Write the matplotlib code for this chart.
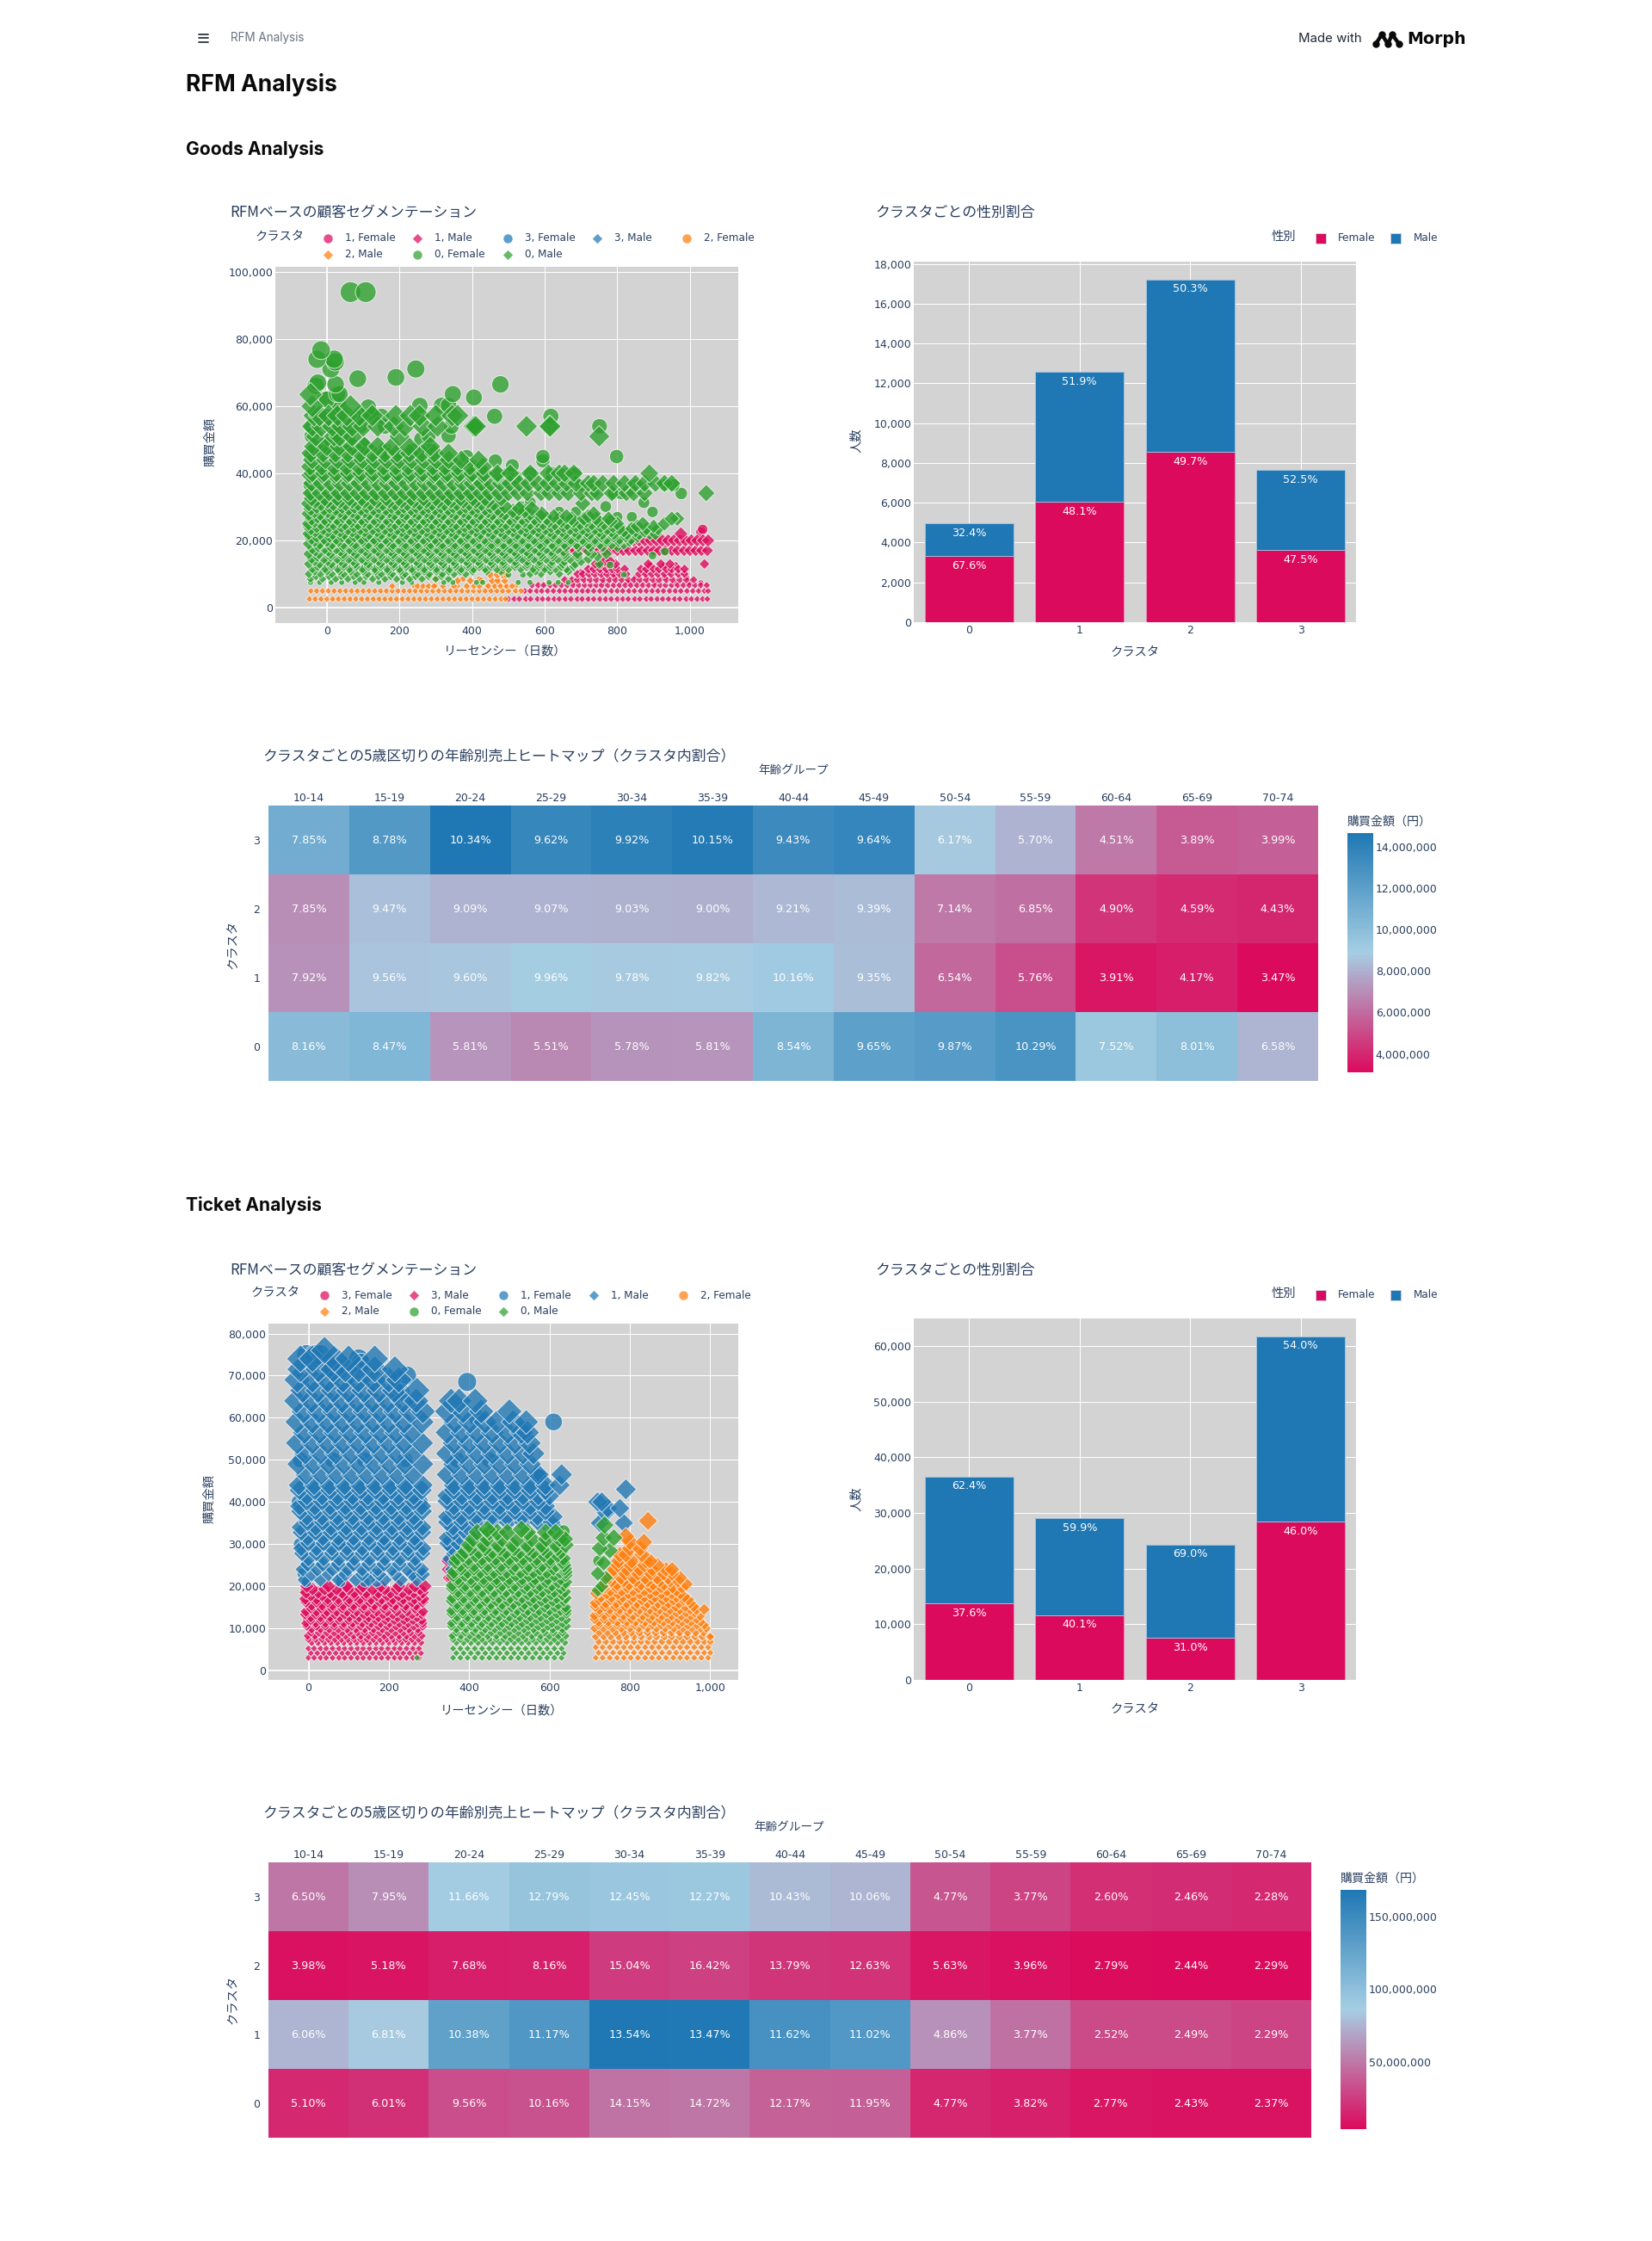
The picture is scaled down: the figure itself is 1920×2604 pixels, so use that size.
import matplotlib
matplotlib.use('Agg')
import matplotlib.pyplot as plt
import numpy as np
from matplotlib.colors import LinearSegmentedColormap, Normalize
from matplotlib.cm import ScalarMappable
from matplotlib.ticker import FuncFormatter

# ---- data ----
ages = ['10-14', '15-19', '20-24', '25-29', '30-34', '35-39', '40-44', '45-49',
        '50-54', '55-59', '60-64', '65-69', '70-74']
clusters = [0, 1, 2, 3]

goods_female = [3310, 6050, 8560, 3630]
goods_male = [1650, 6530, 8665, 4015]
goods_female_pct = ['67.6%', '48.1%', '49.7%', '47.5%']
goods_male_pct = ['32.4%', '51.9%', '50.3%', '52.5%']

ticket_female = [13740, 11650, 7540, 28420]
ticket_male = [22820, 17390, 16800, 33360]
ticket_female_pct = ['37.6%', '40.1%', '31.0%', '46.0%']
ticket_male_pct = ['62.4%', '59.9%', '69.0%', '54.0%']

# cell text, rows are cluster 0..3
goods_share = [
    [8.16, 8.47, 5.81, 5.51, 5.78, 5.81, 8.54, 9.65, 9.87, 10.29, 7.52, 8.01, 6.58],
    [7.92, 9.56, 9.60, 9.96, 9.78, 9.82, 10.16, 9.35, 6.54, 5.76, 3.91, 4.17, 3.47],
    [7.85, 9.47, 9.09, 9.07, 9.03, 9.00, 9.21, 9.39, 7.14, 6.85, 4.90, 4.59, 4.43],
    [7.85, 8.78, 10.34, 9.62, 9.92, 10.15, 9.43, 9.64, 6.17, 5.70, 4.51, 3.89, 3.99],
]
# cell colour, millions of yen, estimated from the colour bar
goods_sales = [
    [10.12, 10.50, 7.20, 6.83, 7.17, 7.20, 10.59, 11.97, 12.24, 12.76, 9.32, 9.93, 8.16],
    [7.11, 8.58, 8.62, 8.94, 8.78, 8.82, 9.12, 8.40, 5.87, 5.17, 3.51, 3.74, 3.12],
    [7.00, 8.45, 8.10, 8.09, 8.05, 8.02, 8.21, 8.37, 6.36, 6.11, 4.37, 4.09, 3.95],
    [11.12, 12.44, 14.65, 13.63, 14.06, 14.38, 13.36, 13.66, 8.74, 8.08, 6.39, 5.51, 5.65],
]
ticket_share = [
    [5.10, 6.01, 9.56, 10.16, 14.15, 14.72, 12.17, 11.95, 4.77, 3.82, 2.77, 2.43, 2.37],
    [6.06, 6.81, 10.38, 11.17, 13.54, 13.47, 11.62, 11.02, 4.86, 3.77, 2.52, 2.49, 2.29],
    [3.98, 5.18, 7.68, 8.16, 15.04, 16.42, 13.79, 12.63, 5.63, 3.96, 2.79, 2.44, 2.29],
    [6.50, 7.95, 11.66, 12.79, 12.45, 12.27, 10.43, 10.06, 4.77, 3.77, 2.60, 2.46, 2.28],
]
ticket_sales = [
    [17.1, 20.1, 32.0, 34.0, 47.4, 49.3, 40.8, 40.0, 16.0, 12.8, 9.3, 8.1, 7.9],
    [75.2, 84.5, 128.8, 138.6, 168.0, 167.2, 144.2, 136.8, 60.3, 46.8, 31.3, 30.9, 28.4],
    [6.4, 8.4, 12.4, 13.2, 24.4, 26.6, 22.3, 20.5, 9.1, 6.4, 4.5, 4.0, 3.7],
    [48.8, 59.6, 87.5, 95.9, 93.4, 92.0, 78.2, 75.5, 35.8, 28.3, 19.5, 18.5, 17.1],
]

# scatter data as (amount, [recency, ...]) rows, estimated by eye
g_1_female = [
    (7400, [680, 760, 830, 905, 960, 1000, 1030]),
    (9000, [705, 790, 850, 880, 930, 990]),
    (10500, [700, 770, 880, 945, 985]),
    (12500, [745, 890, 930, 960]),
    (22500, [1030]), (23300, [1035]),
]
g_1_male = [
    (2560, [500, 516, 530, 548, 561, 580, 594, 610, 626, 640, 657, 672, 690, 703, 720, 735, 752, 768, 783, 800,
            815, 830, 848, 862, 880, 893, 910, 925, 941, 958, 972, 990, 1004, 1020, 1035, 1048]),
    (4950, [545, 560, 578, 592, 608, 624, 641, 656, 672, 688, 704, 719, 735, 752, 767, 784, 800, 815, 832, 847,
            864, 880, 896, 912, 927, 944, 960, 975, 992, 1008, 1024, 1040, 1050]),
    (6670, [565, 582, 597, 615, 630, 646, 662, 678, 694, 710, 726, 742, 757, 774, 790, 806, 822, 837, 854, 870,
            886, 902, 918, 933, 950, 966, 982, 998, 1014, 1030, 1046]),
    (8300, [655, 675, 690, 708, 725, 742, 760, 778, 795, 812, 830, 846, 862, 880, 898, 915, 935, 952, 972, 990, 1010]),
    (10000, [690, 705, 722, 738, 756, 772, 790, 806, 825, 860, 878, 895, 912, 930, 948, 968, 985]),
    (11500, [720, 735, 752, 770, 785, 800, 820, 865, 880, 900, 915, 935, 950, 968, 985]),
    (13000, [740, 755, 775, 795, 885, 920, 945, 1040]),
    (13900, [765, 780]),
    (17000, [650, 666, 684, 700, 716, 732, 750, 766, 782, 800, 816, 832, 850, 866, 884, 900, 916, 932, 950, 966,
             984, 1000, 1016, 1032, 1048]),
    (20000, [845, 860, 876, 892, 908, 924, 940, 956, 972, 988, 1004, 1020, 1036, 1050]),
    (22000, [975]),
]
g_3_female = [(16500, [520, 545, 570, 600]), (15000, [530, 575])]
g_3_male = [(17500, [510, 550, 590])]
g_2_female = [(8500, [300, 375, 420, 470]), (6500, [240, 300, 360, 440, 490, 520])]
g_2_male = [
    (2560, [-48, -32, -16, 0, 16, 32, 48, 64, 80, 96, 112, 128, 144, 160, 176, 192, 208, 224, 240, 256, 272, 288,
            304, 320, 336, 352, 368, 384, 400, 416, 432, 448, 464, 480, 492]),
    (4950, [-44, -28, -12, 4, 20, 36, 52, 68, 84, 100, 116, 132, 148, 164, 180, 196, 212, 228, 244, 260, 276, 292,
            308, 324, 340, 356, 372, 388, 404, 420, 436, 452, 468, 484, 500, 520, 535]),
    (6400, [180, 250, 265, 280, 295, 320, 350, 385, 405, 420, 445, 462, 478, 495, 510]),
    (8000, [360, 395, 425, 455, 470, 490]),
    (9800, [450, 470, 485, 494]),
    (11000, [488]),
]
g_0_female = [
    (7500, [-45, -20, 12, 41, 78, 102, 143, 208, 233, 322, 347, 412, 429, 527, 559, 612, 637, 665]),
    (9800, [5, 60, 130, 240, 500, 540, 818]), (11800, [567, 600, 655]), (12700, [655, 780]),
    (15500, [-40, 90, 250, 430, 897]), (16700, [520, 931]),
    (21000, [-50, 120, 300, 610]), (24000, [-52, 200, 500, 720, 840]), (27000, [-40, 60, 480, 800, 840]),
    (28500, [640, 686, 897]), (30100, [534, 768]), (31300, [873, 560]), (34000, [-45, 976, 400, 790, 810]),
    (36500, [-48, 430, 700, 850, 930, 955]),
    (39000, [-40, 60, 180, 520]), (40000, [500, 560, 620, 670, 685]), (42300, [511, 60, 330, 400]),
    (43700, [464, 595, 120, 200]), (45000, [-45, 595, 798, 165, 250, 385, 100]),
    (47000, [-30, 20, 160, 240, 280, 75, 95]), (48700, [-4, 99, 30, 45]),
    (50200, [260, 10, 60]), (51200, [-42, 335, 280, 25]), (54000, [-42, 343, 751, 410, 60, 90, 160]),
    (57000, [462, 617, 0, 100, 150, 30, 125]), (59700, [114, 30]), (60200, [256, 316, 335, 33]),
    (62000, [-5, 0]), (62600, [405]), (63600, [28, 347, 35]), (66100, [-31]), (66500, [24, 478]),
    (67000, [-25]), (68200, [85]), (68600, [190]), (71100, [11, 245]), (73200, [23]),
    (74000, [20, -27]), (76700, [-16]), (94000, [65, 107]),
]
g_0_male = [
    (8500, [-45, -12, 24, 58, 90, 126, 160, 192, 228, 262, 300, 335]),
    (9300, [-30, 6, 40, 74, 108, 142, 176, 210, 244, 280, 316]),
    (10000, [-50, -18, 14, 46, 82, 112, 150, 180, 215, 250, 282, 318, 350, 382, 560, 590, 640]),
    (10800, [-34, 0, 34, 66, 100, 134, 168, 202, 236, 268, 302, 336, 368, 402, 440, 480, 575, 615, 665]),
    (11500, [-40, -5, 30, 62, 98, 132, 166, 200, 234, 268, 302, 338, 370, 404, 436, 468, 500, 534, 568, 600, 630, 660]),
    (12200, [-25, 12, 46, 80, 114, 148, 184, 218, 252, 286, 320, 354, 388, 420, 452, 486, 518, 550, 584, 616, 646, 680]),
    (13000, [-50, -20, 12, 46, 78, 114, 148, 184, 216, 252, 286, 320, 352, 388, 420, 454, 486, 520, 552, 586, 618, 650, 684, 750]),
    (13800, [-34, 2, 38, 72, 106, 142, 176, 210, 246, 280, 314, 348, 384, 416, 450, 484, 518, 552, 586, 620, 654, 700]),
    (14500, [-42, -8, 28, 60, 96, 130, 164, 198, 232, 268, 300, 336, 370, 404, 438, 470, 504, 538, 570, 604, 636, 670, 720]),
    (15200, [-26, 10, 44, 78, 112, 148, 182, 216, 252, 284, 318, 354, 388, 420, 454, 488, 522, 556, 590, 622, 656, 690, 745]),
    (16000, [-50, -22, 10, 44, 80, 112, 146, 182, 216, 250, 284, 318, 354, 386, 420, 452, 488, 520, 556, 588, 620, 654, 690, 730, 770]),
    (16800, [-32, 4, 38, 72, 106, 140, 176, 210, 244, 278, 312, 346, 380, 414, 448, 482, 516, 550, 584, 618, 652, 720]),
    (17500, [-40, -6, 26, 62, 94, 130, 164, 198, 234, 266, 302, 336, 368, 404, 436, 470, 504, 536, 572, 604, 636]),
    (18200, [-24, 10, 44, 78, 112, 146, 180, 216, 250, 284, 318, 352, 386, 420, 454, 488, 522, 556, 590, 624, 658, 692, 726, 760, 800]),
    (19000, [-50, -20, 14, 46, 78, 114, 148, 182, 216, 250, 286, 318, 352, 386, 418, 454, 486, 520, 554, 586, 620, 654, 688, 720, 752, 784, 818]),
    (19800, [-34, 0, 32, 64, 98, 132, 166, 200, 234, 268, 302, 336, 370, 404, 436, 470, 504, 538, 572, 604, 638, 672, 706, 738, 770, 804, 834]),
    (20500, [-42, -8, 26, 60, 96, 130, 162, 198, 232, 266, 298, 334, 368, 402, 434, 470, 502, 538, 570, 606, 638, 672, 704, 738, 770, 806, 838]),
    (21200, [-28, 8, 42, 76, 110, 146, 180, 214, 248, 282, 316, 350, 386, 420, 454, 488, 522, 556, 590, 622, 656, 690, 722, 756, 790, 824, 856]),
    (22000, [-50, -18, 16, 48, 84, 116, 150, 184, 218, 252, 288, 320, 354, 388, 422, 456, 488, 524, 556, 590, 624, 656, 692, 724, 758, 790, 826, 860, 890, 905]),
    (22800, [-32, 2, 36, 70, 104, 138, 172, 206, 240, 274, 308, 342, 376, 410, 444, 478, 512, 546, 580, 614, 648, 682, 716, 750, 784, 818, 850, 875]),
    (23500, [-44, -10, 24, 58, 92, 126, 160, 194, 228, 262, 296, 330, 364, 398, 432, 466, 500, 534, 568, 602, 636, 670, 704, 738, 772, 806, 840, 880, 912]),
    (24200, [-28, 6, 40, 74, 108, 142, 176, 210, 244, 278, 312, 346, 380, 414, 448, 482, 516, 550, 584, 618, 652, 686, 720, 754, 788, 855, 900]),
    (25000, [-50, -16, 18, 50, 86, 118, 152, 188, 220, 254, 290, 322, 356, 392, 424, 458, 494, 526, 560, 596, 628, 662, 698, 730, 764, 800, 870, 930]),
    (25800, [-34, 0, 34, 68, 102, 136, 170, 204, 238, 272, 306, 340, 374, 408, 442, 476, 510, 544, 578, 612, 646, 680, 714, 748, 782]),
    (26500, [-42, -6, 28, 62, 96, 130, 164, 198, 232, 266, 300, 334, 368, 402, 436, 470, 504, 538, 572, 606, 640, 674, 708, 742, 776, 965, 950]),
    (27200, [-26, 10, 44, 78, 112, 146, 180, 214, 248, 282, 316, 350, 384, 418, 452, 486, 520, 554, 588, 625, 660, 720]),
    (28000, [-50, -18, 14, 48, 84, 116, 150, 186, 218, 252, 288, 320, 354, 390, 422, 456, 490, 524, 560, 592, 735]),
    (28800, [-34, 2, 36, 70, 104, 138, 172, 206, 240, 274, 308, 342, 376, 410, 444, 478, 512, 545]),
    (29500, [-44, -8, 24, 60, 94, 128, 162, 196, 232, 264, 298, 334, 366, 400, 436, 470, 530, 565]),
    (30200, [-28, 8, 42, 76, 110, 144, 178, 212, 246, 280, 314, 348, 382, 416, 450, 490]),
    (31000, [-50, -16, 18, 52, 86, 120, 154, 188, 222, 256, 290, 324, 358, 392, 426, 460, 705]),
    (31800, [-32, 2, 36, 70, 104, 138, 172, 206, 240, 274, 308, 342, 376, 410, 444]),
    (32500, [-42, -6, 28, 62, 96, 130, 164, 198, 232, 266, 300, 334, 368, 402, 436, 480]),
    (34100, [-45, -20, 6, 32, 58, 84, 110, 136, 162, 188, 214, 240, 266, 292, 318, 344, 370, 396, 422, 448, 474,
             500, 526, 552, 590, 612, 640, 665, 700, 730, 745, 785, 825, 845, 875, 1045]),
    (37000, [-42, -16, 10, 36, 62, 88, 114, 140, 166, 192, 218, 244, 270, 296, 322, 348, 374, 400, 426, 452, 478,
             504, 530, 556, 582, 608, 634, 660, 686, 720, 735, 760, 790, 820, 850, 875, 905, 930, 950]),
    (39500, [-46, -12, 22, 56, 90, 124, 158, 192, 226, 260, 294, 328, 362, 396, 430, 470]),
    (40000, [-40, -8, 26, 60, 94, 128, 162, 196, 230, 264, 298, 332, 366, 400, 434, 470, 505, 560, 610, 640, 655, 680, 888]),
    (42000, [-46, -14, 20, 54, 88, 122, 156, 190, 224, 258, 292, 326, 360, 394, 430]),
    (44000, [-40, -4, 30, 64, 98, 132, 166, 200, 234, 268, 302, 336, 370, 418]),
    (46000, [-44, -10, 24, 58, 92, 126, 160, 194, 228, 262, 296, 335]),
    (48000, [-36, 0, 34, 70, 104, 140, 180, 225, 285]),
    (51000, [-30, 20, 35, 70, 200, 750]),
    (54000, [-40, -15, 15, 40, 70, 100, 140, 185, 215, 265, 305, 405, 410, 550, 612, 615]),
    (57200, [-35, -20, 5, 30, 55, 90, 125, 190, 230, 255, 300, 345, 360]),
    (60000, [-40, 65]), (63500, [-45]),
]

t_3_female = [
    (8000, [10, 70, 130, 190, 250]), (12000, [-5, 60, 150, 240]), (16000, [30, 110, 200, 275]),
    (19000, [-8, 90, 260]),
]
t_3_male = [
    (3000, [0, 14, 30, 44, 60, 76, 90, 106, 122, 136, 152, 168, 182, 198, 214, 228, 244, 260, 275]),
    (4100, [6, 22, 38, 52, 68, 84, 98, 114, 130, 144, 160, 176, 190, 206, 222, 236, 252, 268, 280]),
    (5200, [0, 14, 30, 44, 60, 76, 90, 106, 122, 136, 152, 168, 182, 198, 214, 228, 244, 260, 275]),
    (6600, [8, 24, 40, 56, 72, 88, 104, 120, 136, 152, 168, 184, 200, 216, 232, 248, 264, 280]),
    (7400, [0, 18, 34, 50, 66, 82, 98, 114, 130, 146, 162, 178, 194, 210, 226, 242, 258, 274]),
    (8200, [-2, 16, 36, 54, 74, 92, 112, 130, 150, 168, 188, 206, 226, 244, 264, 282]),
    (9000, [6, 26, 46, 64, 84, 102, 122, 140, 160, 178, 198, 216, 236, 254, 274]),
    (9800, [8, 30, 52, 74, 96, 118, 140, 162, 184, 206, 228, 250, 272]),
    (10500, [-4, 20, 42, 64, 86, 108, 130, 152, 174, 196, 218, 240, 262, 284]),
    (11200, [-6, 18, 42, 64, 88, 110, 134, 156, 180, 202, 226, 248, 272, 284]),
    (11900, [6, 30, 54, 76, 100, 122, 146, 168, 192, 214, 238, 260, 282]),
    (12600, [6, 30, 54, 78, 102, 126, 150, 174, 198, 222, 246, 270]),
    (13300, [-8, 18, 42, 66, 90, 114, 138, 162, 186, 210, 234, 258, 282]),
    (14000, [-6, 20, 46, 70, 96, 120, 146, 170, 196, 220, 246, 270, 285]),
    (14800, [6, 32, 58, 84, 110, 136, 162, 188, 214, 240, 266]),
    (15500, [8, 34, 60, 86, 112, 138, 164, 190, 216, 242, 268]),
    (16300, [-6, 20, 48, 74, 100, 126, 152, 178, 206, 232, 258, 284]),
    (17000, [-8, 20, 48, 74, 102, 128, 156, 182, 210, 236, 264, 286]),
    (17800, [6, 34, 62, 88, 116, 142, 170, 196, 224, 250, 276]),
    (18500, [-6, 24, 54, 84, 114, 144, 174, 204, 234, 262, 284]),
    (19300, [10, 40, 70, 100, 130, 160, 190, 220, 250, 278]),
    (20000, [-4, 50, 95, 135, 180, 225, 265, 290]),
    (22000, [352, 358]), (24000, [350, 358]), (26000, [350]),
]
t_1_female = [
    (75000, [-5, 15, 30]), (74000, [125]), (73000, [130]), (70000, [245]), (66000, [230]), (72000, [60]),
    (68500, [395]), (59000, [610]), (46000, [570, 575]), (60000, [420]), (50000, [-20, 60, 140, 240, 370, 450]),
    (40000, [-25, 100, 200, 280, 360, 480, 590]), (30000, [-22, 80, 180, 275, 350]), (23000, [-15, 80, 160, 260, 280]),
    (21000, [-5, 80, 140, 170]),
]
t_1_male = [
    (21500, [-10, 30, 75, 118, 150, 190, 230, 270]),
    (22800, [8, 50, 92, 134, 176, 216, 258, 285]),
    (24000, [-14, 22, 60, 98, 134, 172, 208, 246, 282, 358]),
    (25200, [-2, 36, 74, 112, 150, 188, 226, 264, 368]),
    (26500, [0, 38, 76, 114, 152, 190, 228, 266, 352, 374]),
    (27800, [-16, 20, 58, 96, 134, 172, 210, 248, 284, 362, 385]),
    (29000, [-18, 20, 58, 96, 134, 172, 210, 248, 286, 358, 385]),
    (30200, [0, 38, 76, 114, 152, 190, 228, 266, 346, 372, 396]),
    (31500, [-2, 36, 74, 112, 150, 188, 226, 264, 345, 378, 402]),
    (32800, [-18, 18, 56, 94, 132, 170, 208, 246, 284, 362, 392, 415]),
    (34000, [-20, 18, 56, 94, 132, 170, 208, 246, 284, 360, 396, 600, 612]),
    (35200, [-2, 36, 74, 112, 150, 188, 226, 264, 345, 382, 420, 458, 496, 534, 572, 605]),
    (36500, [-4, 34, 72, 110, 148, 186, 224, 262, 345, 380, 418, 456, 494, 532, 570, 610]),
    (37800, [-20, 18, 56, 94, 132, 170, 208, 246, 284, 362, 400, 438, 476, 514, 552, 590]),
    (39000, [-22, 16, 54, 92, 130, 168, 206, 244, 282, 362, 400, 438, 476, 514, 552, 590]),
    (40200, [-4, 34, 72, 110, 148, 186, 224, 262, 345, 382, 420, 458, 496, 534, 572]),
    (41500, [-4, 34, 72, 110, 148, 186, 224, 262, 345, 382, 420, 458, 496, 534, 572, 600]),
    (42800, [-22, 16, 54, 92, 130, 168, 206, 244, 282, 362, 400, 438, 476, 514, 552, 590]),
    (44000, [-24, 14, 52, 90, 128, 166, 204, 242, 284, 362, 400, 438, 476, 514, 552, 590, 625]),
    (46500, [-6, 32, 70, 108, 146, 184, 222, 260, 345, 382, 420, 458, 496, 534, 572, 630]),
    (49000, [-26, 12, 50, 88, 126, 164, 202, 240, 284, 362, 400, 438, 476, 514, 552]),
    (51500, [-8, 30, 68, 106, 144, 182, 220, 258, 345, 382, 420, 458, 496, 534, 560]),
    (54000, [-28, 10, 48, 86, 124, 162, 200, 238, 282, 362, 400, 438, 476, 514, 550]),
    (56500, [-10, 28, 66, 104, 142, 180, 218, 256, 345, 382, 420, 458, 496, 530, 545]),
    (59000, [-28, 10, 48, 86, 124, 162, 200, 238, 282, 365, 402, 440, 470, 510, 542]),
    (61500, [-12, 26, 64, 102, 140, 178, 216, 254, 285, 345, 385, 430, 500]),
    (64000, [-30, 8, 46, 84, 122, 160, 198, 236, 268, 355, 375, 415]),
    (66500, [-14, 24, 62, 100, 138, 176, 214, 270]),
    (69000, [-28, 10, 48, 86, 124, 162, 200, 225]),
    (71500, [-20, 25, 62, 92, 125, 165, 215]),
    (74000, [-20, 10, 65, 100, 165]),
    (76000, [40]),
    (35000, [725, 785]), (37500, [740]), (38500, [745, 775]), (40000, [720, 730]), (43000, [790]),
]
t_2_female = [
    (12000, [720, 800, 880, 950]), (18000, [770, 850]), (22000, [790, 860]), (8000, [1000]),
]
t_2_male = [
    (3000, [715, 732, 750, 768, 785, 802, 820, 838, 855, 872, 890, 908, 925, 942, 960, 978, 995]),
    (4200, [722, 740, 758, 775, 792, 810, 828, 845, 862, 880, 898, 915, 932, 950, 968, 985, 1000]),
    (5500, [715, 732, 750, 768, 785, 802, 820, 838, 855, 872, 890, 908, 925, 942, 960, 978, 995]),
    (6800, [722, 740, 758, 775, 792, 810, 828, 845, 862, 880, 898, 915, 932, 950, 968, 985, 1000]),
    (8000, [715, 735, 752, 772, 790, 810, 828, 848, 866, 886, 904, 924, 942, 962, 980, 1000]),
    (9000, [724, 744, 764, 784, 804, 824, 844, 864, 884, 904, 924, 944, 964, 984]),
    (10000, [712, 734, 756, 778, 800, 822, 844, 866, 888, 910, 932, 954, 976, 990]),
    (10800, [722, 746, 768, 790, 812, 834, 856, 878, 900, 922, 944, 966, 985]),
    (11500, [722, 746, 768, 792, 814, 838, 860, 884, 906, 930, 952, 976]),
    (12200, [712, 736, 758, 782, 804, 828, 850, 874, 896, 920, 942, 966]),
    (13000, [712, 736, 760, 784, 808, 832, 856, 880, 904, 928, 952, 975]),
    (13800, [724, 748, 772, 796, 820, 844, 868, 892, 916, 940, 962]),
    (14500, [724, 750, 774, 800, 824, 850, 874, 900, 924, 950, 965, 985]),
    (15200, [714, 738, 764, 788, 814, 838, 864, 888, 914, 938, 958]),
    (16000, [714, 740, 766, 792, 818, 844, 870, 896, 922, 950]),
    (16800, [724, 752, 778, 804, 830, 856, 882, 908, 934, 945]),
    (17500, [728, 754, 782, 808, 836, 862, 890, 916, 935]),
    (18300, [716, 742, 770, 796, 824, 850, 878, 904, 925]),
    (19000, [725, 752, 780, 808, 836, 864, 892, 915]),
    (19800, [738, 766, 794, 822, 850, 878, 906, 930]),
    (20500, [738, 768, 798, 828, 858, 885, 940]),
    (21300, [754, 784, 814, 844, 874, 900, 920]),
    (22000, [748, 778, 808, 838, 868, 895, 925]),
    (23000, [756, 788, 820, 852, 884, 905]),
    (24000, [760, 792, 824, 856, 890, 905]),
    (25000, [770, 802, 836, 868]),
    (26000, [772, 805, 840, 850]),
    (27500, [775, 790, 830]), (29000, [800, 825]),
    (30500, [800, 835]), (31800, [790]), (35500, [845]),
]
t_0_female = [
    (8000, [360, 420, 500, 560, 620]), (14000, [370, 450, 540, 630]), (22000, [390, 470, 560]),
    (26000, [722]), (32000, [600, 630]), (33000, [635]),
]
t_0_male = [
    (3000, [360, 378, 396, 414, 432, 450, 468, 486, 504, 522, 540, 558, 576, 594, 612, 630]),
    (3000, [270]),
    (4100, [368, 386, 404, 422, 440, 458, 476, 494, 512, 530, 548, 566, 584, 602, 620, 635]),
    (5200, [360, 378, 396, 414, 432, 450, 468, 486, 504, 522, 540, 558, 576, 594, 612, 630]),
    (6600, [368, 386, 404, 422, 440, 458, 476, 494, 512, 530, 548, 566, 584, 602, 620, 638]),
    (7400, [360, 378, 396, 414, 432, 450, 468, 486, 504, 522, 540, 558, 576, 594, 612, 630]),
    (8200, [358, 380, 402, 424, 446, 468, 490, 512, 534, 556, 578, 600, 622, 640]),
    (9000, [368, 390, 412, 434, 456, 478, 500, 522, 544, 566, 588, 610, 632]),
    (9800, [368, 392, 416, 440, 464, 488, 512, 536, 560, 584, 608, 632]),
    (10500, [356, 380, 404, 428, 452, 476, 500, 524, 548, 572, 596, 620, 642]),
    (11200, [356, 382, 406, 432, 456, 482, 506, 532, 556, 582, 606, 632]),
    (12000, [368, 394, 418, 444, 468, 494, 518, 544, 568, 594, 618, 642]),
    (12700, [370, 396, 422, 448, 474, 500, 526, 552, 578, 604, 630]),
    (13500, [356, 384, 410, 436, 462, 488, 514, 540, 566, 592, 618, 642]),
    (14200, [356, 384, 412, 438, 466, 492, 520, 546, 574, 600, 628, 642]),
    (15000, [370, 398, 426, 452, 480, 506, 534, 560, 588, 614, 640]),
    (15700, [370, 398, 426, 454, 482, 510, 538, 566, 594, 622]),
    (16500, [356, 384, 412, 440, 468, 496, 524, 552, 580, 608, 636]),
    (17200, [358, 386, 416, 444, 474, 502, 532, 560, 590, 618, 640]),
    (18000, [372, 402, 430, 460, 488, 518, 546, 576, 604, 632]),
    (18700, [372, 402, 432, 462, 492, 522, 552, 582, 612, 638]),
    (19500, [358, 388, 418, 448, 478, 508, 538, 568, 598, 628]),
    (20200, [358, 390, 420, 452, 482, 514, 544, 576, 606, 636]),
    (21000, [374, 406, 436, 468, 498, 530, 560, 592, 622, 640]),
    (21800, [372, 404, 436, 468, 500, 532, 564, 596, 628]),
    (22600, [360, 390, 420, 452, 484, 516, 548, 580, 612, 640]),
    (23400, [362, 396, 428, 462, 494, 528, 560, 594, 626, 640]),
    (24200, [380, 412, 444, 478, 510, 544, 576, 610, 638]),
    (25000, [378, 412, 446, 480, 514, 548, 582, 616, 636]),
    (25800, [366, 396, 430, 464, 498, 532, 566, 600, 632]),
    (26600, [370, 398, 432, 466, 500, 534, 568, 602, 634]),
    (27400, [384, 416, 450, 484, 518, 552, 586, 620]),
    (28200, [390, 424, 458, 492, 526, 560, 594, 628]),
    (29000, [404, 440, 476, 512, 548, 584, 620]),
    (29800, [400, 436, 472, 508, 544, 580, 616, 640]),
    (31200, [410, 445, 482, 520, 556, 592, 625, 638]),
    (32800, [420, 450, 470, 495, 545, 590, 615]),
    (33500, [445, 530]),
    (19000, [720]), (20000, [730]), (22000, [740]), (23000, [720]), (25500, [735]), (28500, [750]),
    (29000, [725]), (31500, [735, 760]), (34500, [737]),
]

# ---- styling ----
W, H = 1920, 2604
PX = 0.72  # px -> pt at dpi 100
INK = '#2a3f5f'
PINK = '#dc0a5c'
BLUE = '#1f77b4'
ORANGE = '#ff7f0e'
GREEN = '#2ca02c'
PANEL = '#d3d3d3'
CJK = ['Noto Sans CJK JP', 'DejaVu Sans']
LATIN = ['DejaVu Sans', 'Noto Sans CJK JP']
HEAD = ['Inter', 'DejaVu Sans']
TITLE = 16.9
AXIS = 14.3
TICK = 12.5

heat_cmap = LinearSegmentedColormap.from_list('pink_blue', [PINK, '#a6cee3', '#1f78b4'])
thousands = FuncFormatter(lambda v, _: f'{int(v):,}')

fig = plt.figure(figsize=(W / 100, H / 100), dpi=100, facecolor='white')
page = fig.add_axes([0, 0, 1, 1], zorder=5)
page.set_xlim(0, W)
page.set_ylim(H, 0)
page.axis('off')


def put(x, y, s, size, color=INK, family=CJK, ha='left', rotation=0, weight='normal'):
    page.text(x, y, s, fontsize=size * PX, color=color, family=family, ha=ha, va='center',
              rotation=rotation, weight=weight)


def axes_px(left, top, right, bottom):
    return fig.add_axes([left / W, 1 - bottom / H, (right - left) / W, (bottom - top) / H])


def unpack(rows):
    xs, ys = [], []
    for amount, recency in rows:
        xs.extend(recency)
        ys.extend([amount] * len(recency))
    return np.array(xs, float), np.array(ys, float)


def style_panel(ax, xlim, ylim, xticks, yticks):
    ax.set_facecolor(PANEL)
    ax.set_xlim(*xlim)
    ax.set_ylim(*ylim)
    ax.set_xticks(xticks)
    ax.set_yticks(yticks)
    ax.yaxis.set_major_formatter(thousands)
    ax.grid(True, color='white', lw=1 * PX)
    ax.set_axisbelow(True)
    for sp in ax.spines.values():
        sp.set_visible(False)
    ax.tick_params(length=0, labelsize=TICK * PX, labelcolor=INK, pad=2)


def scatter_panel(box, xlim, ylim, yticks, series, ref_px, ref_y):
    ax = axes_px(*box)
    style_panel(ax, xlim, ylim, [0, 200, 400, 600, 800, 1000], yticks)
    ax.xaxis.set_major_formatter(thousands)
    ax.axhline(0, color='white', lw=1.5 * PX, zorder=0.5)
    ax.axvline(0, color='white', lw=1.5 * PX, zorder=0.5)
    for rows, color, marker in series:
        x, y = unpack(rows)
        d = np.maximum(ref_px * np.sqrt(y / ref_y), 6) * PX
        ax.scatter(x, y, s=d ** 2, c=color, marker=marker, alpha=0.78, edgecolors='white',
                   linewidths=0.9 * PX, clip_on=True)
    return ax


def scatter_legend(title_xy, xs, text_xs, ys, labels):
    put(title_xy[0], title_xy[1], 'クラスタ', AXIS, ha='center')
    for i, (label, color, marker) in enumerate(labels):
        row, col = divmod(i, 5)
        d = 11 if marker == 'o' else 8.5
        page.scatter(xs[col], ys[row], s=(d * PX) ** 2, c=color, marker=marker, alpha=0.72, edgecolors='white',
                     linewidths=0.75 * PX)
        put(text_xs[col], ys[row], label, 12, family=LATIN)


def bar_panel(box, top, yticks, female, male, f_pct, m_pct):
    ax = axes_px(*box)
    style_panel(ax, (-0.5, 3.5), (0, top), clusters, yticks)
    ax.bar(clusters, female, width=0.8, color=PINK, edgecolor='#e58ab0', linewidth=1 * PX)
    ax.bar(clusters, male, width=0.8, bottom=female, color=BLUE, edgecolor='#9dbfdc', linewidth=1 * PX)
    for i in clusters:
        for tip, lab in ((female[i], f_pct[i]), (female[i] + male[i], m_pct[i])):
            ax.annotate(lab, (i, tip), xytext=(0, -11 * PX), textcoords='offset points', ha='center', va='center',
                        color='white', fontsize=12.8 * PX, family=LATIN)
    return ax


def bar_legend(y_title, y_items):
    put(1492, y_title, '性別', AXIS, ha='center')
    for sq_x, tx_x, color, lab in ((1534.5, 1555, PINK, 'Female'), (1622, 1643, BLUE, 'Male')):
        page.scatter(sq_x, y_items, s=(12.5 * PX) ** 2, c=color, marker='s', edgecolors='#c9d4e4', linewidths=0.6)
        put(tx_x, y_items, lab, 12, family=LATIN)


def heat_panel(box, share, sales, vmin, vmax, cbar_box, cbar_ticks, cbar_title_y):
    ax = axes_px(*box)
    norm = Normalize(vmin, vmax)
    ax.pcolormesh(np.arange(14) - 0.5, np.arange(5) - 0.5, np.array(sales), cmap=heat_cmap, norm=norm)
    ax.xaxis.tick_top()
    ax.set_xticks(range(13), ages)
    ax.set_yticks(clusters)
    ax.tick_params(length=0, labelsize=TICK * PX, labelcolor=INK)
    ax.tick_params(axis='x', pad=1.5)
    ax.tick_params(axis='y', pad=7)
    for sp in ax.spines.values():
        sp.set_visible(False)
    for r, row in enumerate(share):
        for c, v in enumerate(row):
            ax.text(c, r, f'{v:.2f}%', ha='center', va='center', color='white', fontsize=12.8 * PX, family=LATIN)
    cax = axes_px(*cbar_box)
    cb = fig.colorbar(ScalarMappable(norm=norm, cmap=heat_cmap), cax=cax)
    cb.outline.set_visible(False)
    cb.set_ticks(cbar_ticks)
    cb.ax.set_yticklabels([f'{int(t * 1e6):,}' for t in cbar_ticks])
    cax.tick_params(length=0, labelsize=TICK * PX, labelcolor=INK, pad=2)
    put(cbar_box[0], cbar_title_y, '購買金額（円）', 14)
    return ax


# ---- page header ----
for ly in (39.5, 44, 48.5):
    page.plot([230.5, 241.5], [ly, ly], color='#1f2937', lw=1.7 * PX, solid_capstyle='round')
put(268, 44, 'RFM Analysis', 13.5, color='#6b7280', family=HEAD)
put(216, 99, 'RFM Analysis', 26.5, color='#0a0a0a', family=HEAD, weight='bold')
put(216, 173, 'Goods Analysis', 21, color='#0a0a0a', family=HEAD, weight='bold')
put(216, 1400.5, 'Ticket Analysis', 21, color='#0a0a0a', family=HEAD, weight='bold')
put(1509, 45, 'Made with', 15, color='#1f2937', family=HEAD)
put(1635.5, 45.5, 'Morph', 19, color='#0a0a0a', family=LATIN, weight='bold')
logo_x = [1599, 1606, 1613, 1618, 1626]
logo_y = [51, 40, 51, 40, 51]
page.plot(logo_x, logo_y, color='#0a0a0a', lw=4.4 * PX)
page.scatter(logo_x, logo_y, s=(8.4 * PX) ** 2, c='#0a0a0a', linewidths=0)

# ---- goods ----
put(267, 247, 'RFMベースの顧客セグメンテーション', TITLE)
scatter_legend((325, 275), [380.5, 485, 590, 694, 798], [401, 505, 610, 714, 818], [276.5, 295.5],
               [('1, Female', PINK, 'o'), ('1, Male', PINK, 'D'), ('3, Female', BLUE, 'o'), ('3, Male', BLUE, 'D'),
                ('2, Female', ORANGE, 'o'), ('2, Male', ORANGE, 'D'), ('0, Female', GREEN, 'o'), ('0, Male', GREEN, 'D')])
scatter_panel((320, 310, 858, 724), (-142, 1133), (-4615, 101540), range(0, 100001, 20000),
              [(g_1_female, PINK, 'o'), (g_1_male, PINK, 'D'), (g_3_female, BLUE, 'o'), (g_3_male, BLUE, 'D'),
               (g_2_female, ORANGE, 'o'), (g_2_male, ORANGE, 'D'), (g_0_female, GREEN, 'o'), (g_0_male, GREEN, 'D')],
              24, 94000)
put(244, 514, '購買金額', AXIS, ha='center', rotation=90)
put(587.5, 756, 'リーセンシー（日数）', AXIS, ha='center')

put(1017, 247, 'クラスタごとの性別割合', TITLE)
bar_legend(275, 276.5)
bar_panel((1062, 304, 1576, 723), 18115, range(0, 18001, 2000), goods_female, goods_male,
          goods_female_pct, goods_male_pct)
put(994.5, 512, '人数', AXIS, ha='center', rotation=90)
put(1319, 758, 'クラスタ', AXIS, ha='center')

put(305, 879, 'クラスタごとの5歳区切りの年齢別売上ヒートマップ（クラスタ内割合）', TITLE)
put(922, 895, '年齢グループ', 13.6, ha='center')
heat_panel((312, 936, 1532, 1256), goods_share, goods_sales, 3.116, 14.65, (1566, 968, 1596, 1246),
           [4, 6, 8, 10, 12, 14], 955)
put(270.5, 1097, 'クラスタ', AXIS, ha='center', rotation=90)

# ---- ticket ----
put(267, 1475.5, 'RFMベースの顧客セグメンテーション', TITLE)
scatter_legend((320.5, 1502), [377, 481, 585, 690, 794], [397, 501, 605, 710, 814], [1505, 1524],
               [('3, Female', PINK, 'o'), ('3, Male', PINK, 'D'), ('1, Female', BLUE, 'o'), ('1, Male', BLUE, 'D'),
                ('2, Female', ORANGE, 'o'), ('2, Male', ORANGE, 'D'), ('0, Female', GREEN, 'o'), ('0, Male', GREEN, 'D')])
scatter_panel((312, 1538, 858, 1952), (-99.6, 1069.6), (-2250, 82350), range(0, 80001, 10000),
              [(t_3_female, PINK, 'o'), (t_3_male, PINK, 'D'), (t_1_female, BLUE, 'o'), (t_1_male, BLUE, 'D'),
               (t_2_female, ORANGE, 'o'), (t_2_male, ORANGE, 'D'), (t_0_female, GREEN, 'o'), (t_0_male, GREEN, 'D')],
              23, 75000)
put(243, 1741.5, '購買金額', AXIS, ha='center', rotation=90)
put(583, 1987, 'リーセンシー（日数）', AXIS, ha='center')

put(1017, 1475.5, 'クラスタごとの性別割合', TITLE)
bar_legend(1503, 1504.6)
bar_panel((1062, 1532, 1576, 1952), 64985, range(0, 60001, 10000), ticket_female, ticket_male,
          ticket_female_pct, ticket_male_pct)
put(994.5, 1742, '人数', AXIS, ha='center', rotation=90)
put(1319, 1986, 'クラスタ', AXIS, ha='center')

put(305, 2107, 'クラスタごとの5歳区切りの年齢別売上ヒートマップ（クラスタ内割合）', TITLE)
put(917.5, 2123, '年齢グループ', 13.6, ha='center')
heat_panel((312, 2164, 1524, 2484), ticket_share, ticket_sales, 3.7, 168.2, (1558, 2196, 1588, 2474),
           [50, 100, 150], 2183)
put(270.5, 2324, 'クラスタ', AXIS, ha='center', rotation=90)

fig.savefig('out.png', dpi=100)
